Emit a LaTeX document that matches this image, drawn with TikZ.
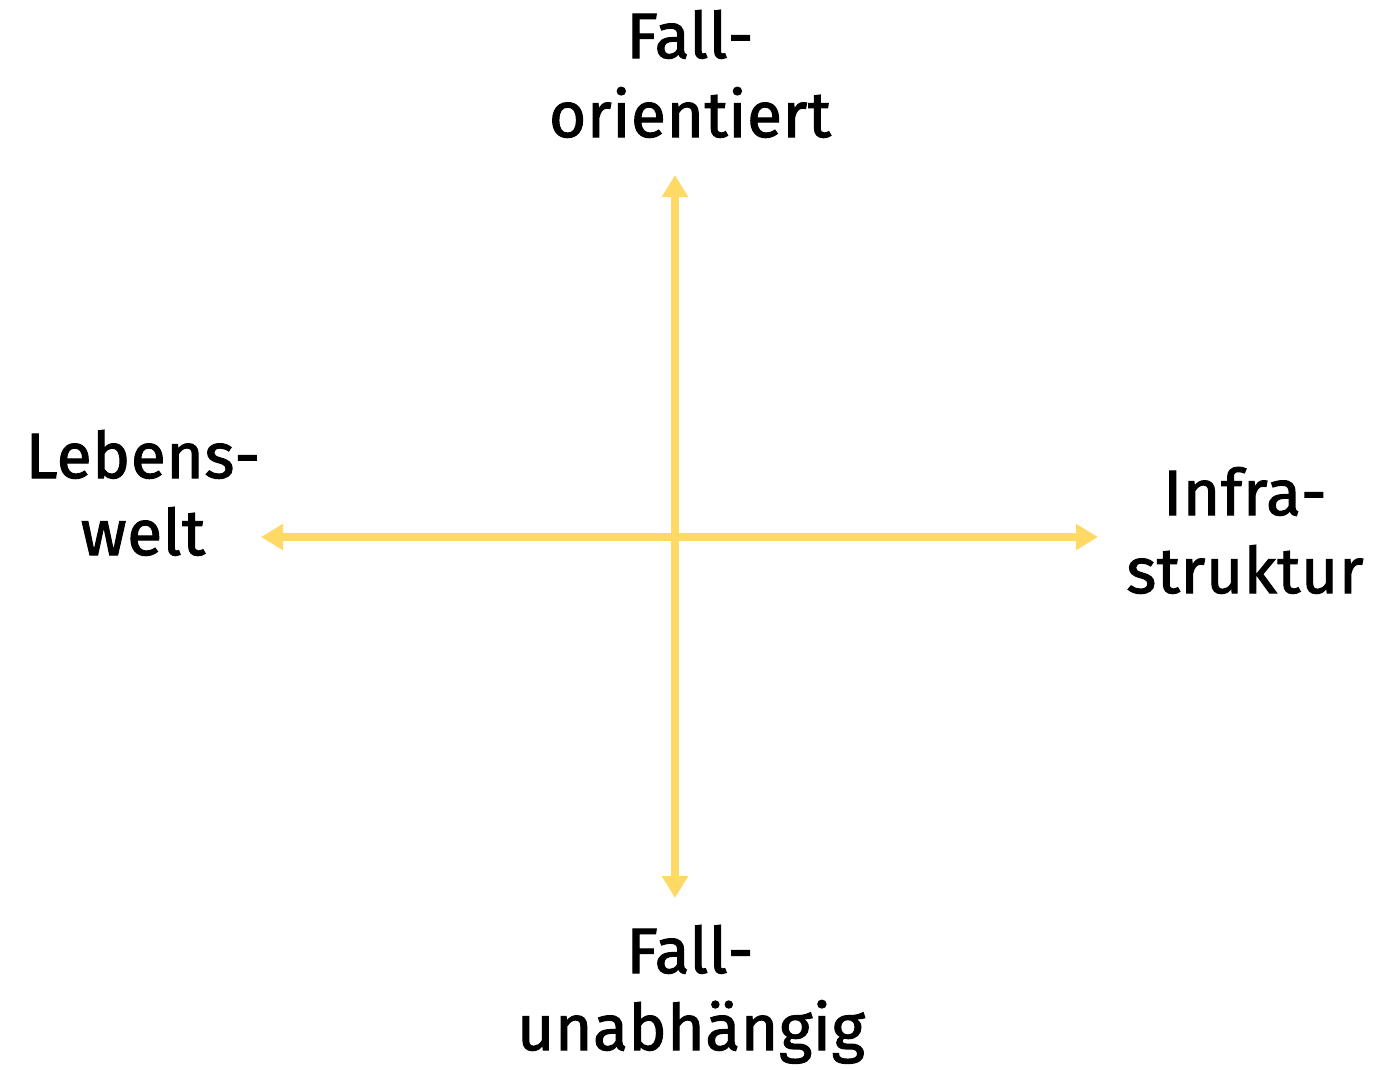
\documentclass[tikz,border=0pt]{standalone}
\usepackage{fontspec}
\setmainfont{Fira Sans}[LetterSpace=1, FakeBold=1.6]
\usetikzlibrary{arrows.meta}
\definecolor{axisyellow}{RGB}{255,217,102}
\tikzset{
  axis/.style={draw=axisyellow, line width=7.5pt, -{Triangle[width=25pt,length=22pt]}},
  lbl/.style={anchor=base, inner sep=0pt, font=\fontsize{64}{79}\selectfont, text=black},
}
\begin{document}
\begin{tikzpicture}[x=1pt,y=-1pt]
\useasboundingbox (0,0) rectangle (1378,1069);
\coordinate (c) at (675,537);
\coordinate (top) at (675,175);
\coordinate (bot) at (675,898);
\coordinate (lft) at (261,537);
\coordinate (rgt) at (1098,537);
\draw[axis] (c) -- (top);
\draw[axis] (c) -- (bot);
\draw[axis] (c) -- (lft);
\draw[axis] (c) -- (rgt);
\node[lbl] (t1) at (690,58) {Fall-};
\node[lbl] (t2) at (690,137) {orientiert};
\node[lbl] (b1) at (690,973) {Fall-};
\node[lbl] (b2) at (691,1050) {unabhängig};
\node[lbl] (l1) at (143,478) {Lebens-};
\node[lbl] (l2) at (143,555) {welt};
\node[lbl] (r1) at (1245,515) {Infra-};
\node[lbl] (r2) at (1245,593) {struktur};
\end{tikzpicture}
\end{document}
